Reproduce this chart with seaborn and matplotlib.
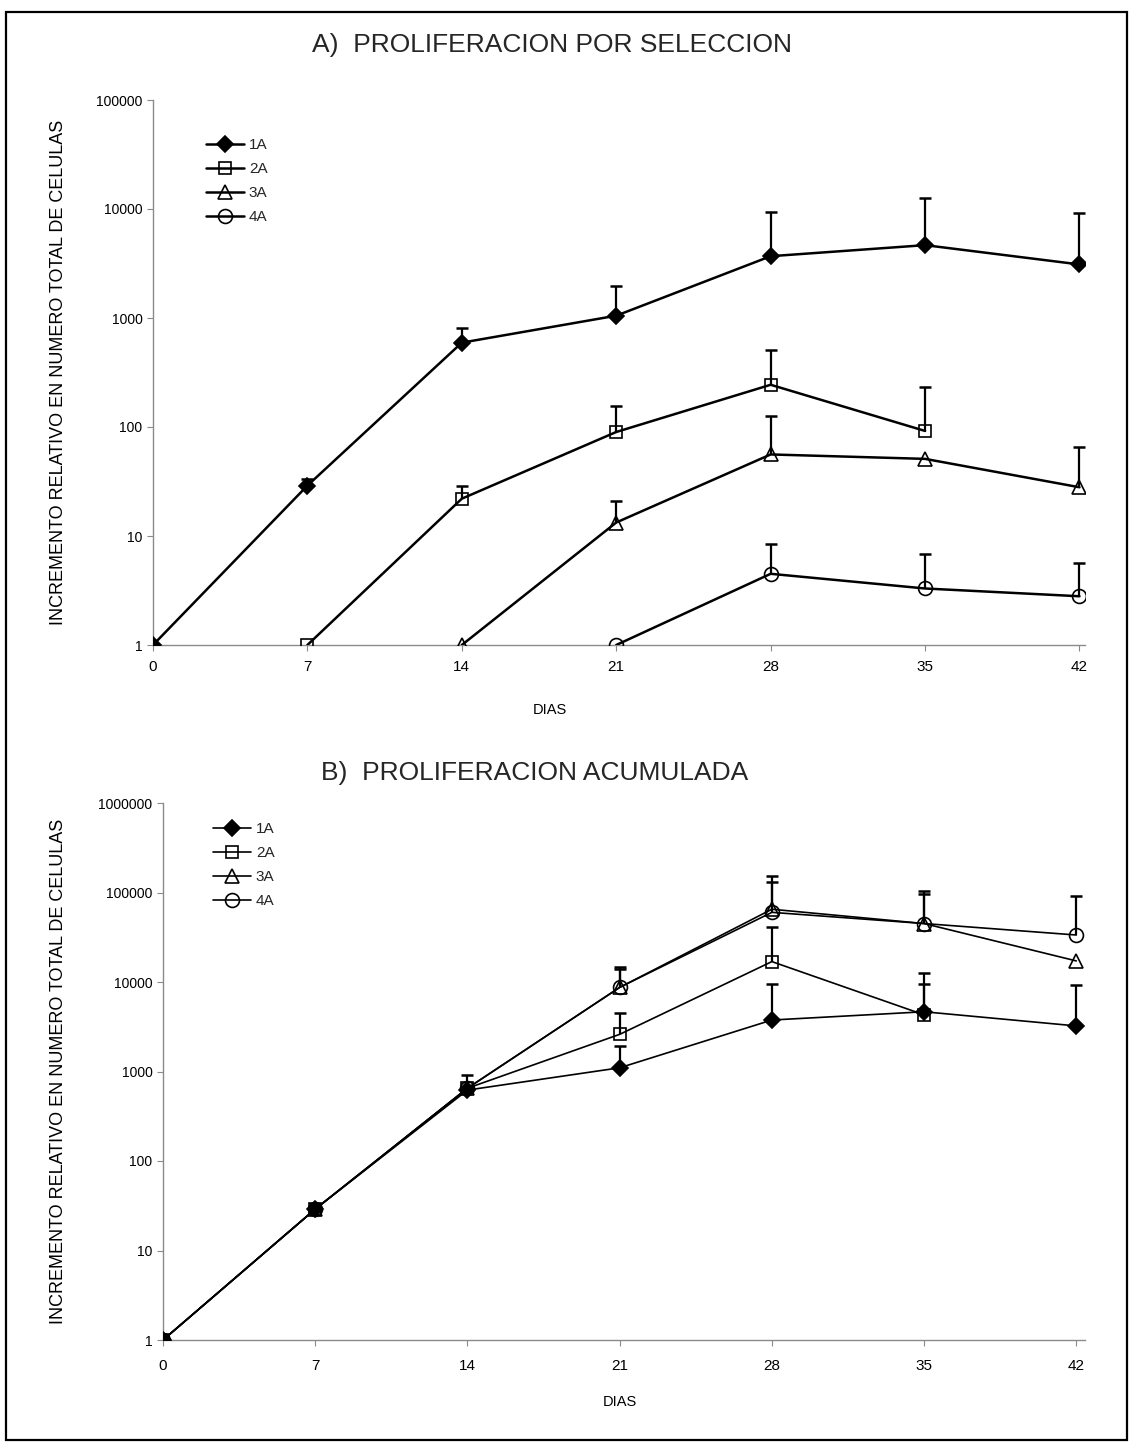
import matplotlib
matplotlib.use('Agg')
import matplotlib.pyplot as plt
import seaborn as sns
import numpy as np
import pandas as pd
from matplotlib.patches import Rectangle
from matplotlib.ticker import NullLocator

sns.set_theme(style='white')
plt.rcParams['font.family'] = ['Liberation Sans', 'DejaVu Sans']
NARROW = ['Liberation Sans Narrow', 'Liberation Sans', 'DejaVu Sans']

# ---------------- data ----------------
days = [0, 7, 14, 21, 28, 35, 42]
series_names = ['1A', '2A', '3A', '4A']
xtick_labels = ['0', '7', '14', '21', '28', '35', '42']

# Panel A: proliferacion por seleccion
A_days_1A = [0, 7, 14, 21, 28, 35, 42]
A_val_1A = [1, 29, 594, 1050, 3690, 4660, 3100]
A_top_1A = [np.nan, 33, 815, 1950, 9360, 12600, 9140]

A_days_2A = [7, 14, 21, 28, 35]
A_val_2A = [1, 22, 90, 244, 92]
A_top_2A = [np.nan, 29, 156, 510, 234]

A_days_3A = [14, 21, 28, 35, 42]
A_val_3A = [1, 13.3, 56, 51, 28]
A_top_3A = [np.nan, 21, 126, np.nan, 65]

A_days_4A = [21, 28, 35, 42]
A_val_4A = [1, 4.5, 3.3, 2.8]
A_top_4A = [np.nan, 8.5, 6.8, 5.7]

A_yticks = [1, 10, 100, 1000, 10000, 100000]
A_ytick_labels = ['1', '10', '100', '1000', '10000', '100000']

# Panel B: proliferacion acumulada
B_days_1A = [0, 7, 14, 21, 28, 35, 42]
B_val_1A = [1, 29, 620, 1100, 3760, 4650, 3230]
B_top_1A = [np.nan, 33, np.nan, 1950, 9500, 12700, 9300]

B_days_2A = [0, 7, 14, 21, 28, 35]
B_val_2A = [1, 29, 650, 2600, 16900, 4300]
B_top_2A = [np.nan, np.nan, 910, 4460, 41500, 9500]

B_days_3A = [0, 7, 14, 21, 28, 35, 42]
B_val_3A = [1, 29, 650, 8700, 65000, 45000, 17200]
B_top_3A = [np.nan, np.nan, np.nan, 14800, 152000, 105000, np.nan]

B_days_4A = [0, 7, 14, 21, 28, 35, 42]
B_val_4A = [1, 29, 650, 8700, 60000, 45000, 33500]
B_top_4A = [np.nan, np.nan, np.nan, 14000, 132000, 95000, 92000]

B_yticks = [1, 10, 100, 1000, 10000, 100000, 1000000]
B_ytick_labels = ['1', '10', '100', '1000', '10000', '100000', '1000000']

title_A = 'A)  PROLIFERACION POR SELECCION'
title_B = 'B)  PROLIFERACION ACUMULADA'
ylabel = 'INCREMENTO RELATIVO EN NUMERO TOTAL DE CELULAS'
xlabel = 'DIAS'

# ---------------- styles ----------------
mstyle = {
    '1A': dict(marker='D', markersize=8, markerfacecolor='black'),
    '2A': dict(marker='s', markersize=9, markerfacecolor='none'),
    '3A': dict(marker='^', markersize=9.5, markerfacecolor='none'),
    '4A': dict(marker='o', markersize=10, markerfacecolor='none'),
}

W, H = 1132, 1448
fig = plt.figure(figsize=(W / 100, H / 100), dpi=100)
fig.patch.set_facecolor('white')

axA = fig.add_axes([153 / W, 1 - 645 / H, (1085 - 153) / W, (645 - 100) / H])
axB = fig.add_axes([163 / W, 1 - 1340 / H, (1085 - 163) / W, (1340 - 803) / H])


def draw(ax, data, lw, yticks, ylabels, xlim_hi):
    for name in series_names:
        d, v, t = data[name]
        df = pd.DataFrame({'dia': d, 'valor': v, 'sup': t})
        # error bars (upper only)
        e = df.dropna()
        ax.vlines(e['dia'], e['valor'], e['sup'], color='black', lw=1.6, zorder=2)
        ax.plot(e['dia'], e['sup'], ls='none', marker='_', markersize=9,
                markeredgewidth=1.8, color='black', zorder=2)
        sns.lineplot(data=df, x='dia', y='valor', ax=ax, color='black', lw=lw,
                     markeredgecolor='black', markeredgewidth=1.2,
                     label=name, estimator=None, sort=False, zorder=3,
                     **mstyle[name])
    ax.set_yscale('log')
    ax.set_ylim(yticks[0], yticks[-1])
    ax.set_yticks(yticks)
    ax.set_yticklabels(ylabels)
    ax.yaxis.set_minor_locator(NullLocator())
    ax.set_xlim(0, xlim_hi)
    ax.set_xticks(days)
    ax.set_xticklabels(xtick_labels, family=NARROW)
    for s in ['top', 'right']:
        ax.spines[s].set_visible(False)
    for s in ['left', 'bottom']:
        ax.spines[s].set_color('#8a8a8a')
        ax.spines[s].set_linewidth(1.0)
    ax.tick_params(axis='both', which='major', bottom=True, left=True,
                   direction='out', length=4, width=0.8, color='#8a8a8a',
                   labelsize=10, labelcolor='black')
    ax.set_ylabel(ylabel, fontsize=13, color='black')
    ax.set_xlabel(xlabel, fontsize=10.5, color='black')
    ax.patch.set_alpha(0)


dataA = {'1A': (A_days_1A, A_val_1A, A_top_1A), '2A': (A_days_2A, A_val_2A, A_top_2A),
         '3A': (A_days_3A, A_val_3A, A_top_3A), '4A': (A_days_4A, A_val_4A, A_top_4A)}
dataB = {'1A': (B_days_1A, B_val_1A, B_top_1A), '2A': (B_days_2A, B_val_2A, B_top_2A),
         '3A': (B_days_3A, B_val_3A, B_top_3A), '4A': (B_days_4A, B_val_4A, B_top_4A)}

draw(axA, dataA, 1.8, A_yticks, A_ytick_labels, 42.25)
draw(axB, dataB, 1.2, B_yticks, B_ytick_labels, 42.4)

axA.tick_params(axis='x', pad=7, labelsize=11)
axB.tick_params(axis='x', pad=10, labelsize=11)
axA.yaxis.set_label_coords(-0.092, 0.5)
axB.yaxis.set_label_coords(-0.104, 0.5)
axA.xaxis.set_label_coords((550 - 153) / 932, -(703 - 645) / 545)
axB.xaxis.set_label_coords((620 - 163) / 922, -(1395 - 1340) / 537)

for ax, (lx, ly) in [(axA, (200, 132)), (axB, (207, 816))]:
    leg = ax.legend(loc='upper left', frameon=False, fontsize=11, handlelength=2.5,
                    handletextpad=0.3, labelspacing=0.65, borderaxespad=0,
                    bbox_to_anchor=(lx / W, 1 - ly / H), bbox_transform=fig.transFigure)

fig.text(552 / W, 1 - 45 / H, title_A, ha='center', va='center', fontsize=19, family=NARROW)
fig.text(535 / W, 1 - 773 / H, title_B, ha='center', va='center', fontsize=19, family=NARROW)

fig.add_artist(Rectangle((6 / W, 1 - 1440 / H), (1127 - 6) / W, (1440 - 12) / H,
                         transform=fig.transFigure, fill=False, edgecolor='black', lw=1.6))

fig.savefig('out.png', dpi=100, facecolor='white')
